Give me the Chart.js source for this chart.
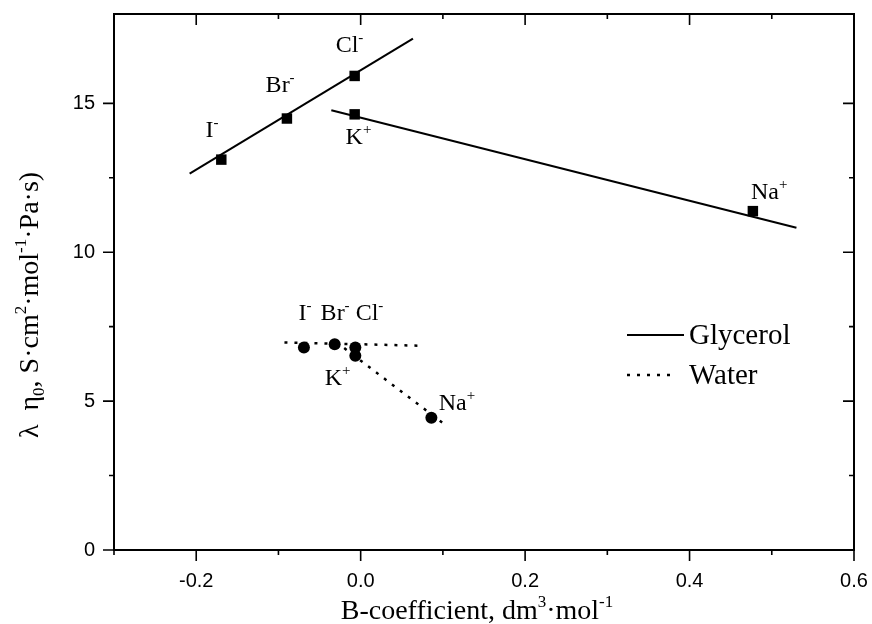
<!DOCTYPE html>
<html><head><meta charset="utf-8">
<script src="https://cdn.jsdelivr.net/npm/chart.js@4"></script>
<style>html,body{margin:0;padding:0;background:#fff}#wrap{width:872px;height:624px}</style>
</head><body><div id="wrap"><canvas id="c" width="872" height="624"></canvas></div>
<script>
// ---- data (B-coefficient, lambda*eta0) ----
const glyAnionB = [-0.1695, -0.0897, -0.0073];
const glyAnionV = [13.11, 14.49, 15.92];
const glyCationB = [-0.0073, 0.477];
const glyCationV = [14.63, 11.38];
const watAnionB = [-0.069, -0.0316, -0.0065];
const watAnionV = [6.80, 6.91, 6.80];
const watCationB = [-0.0065, 0.086];
const watCationV = [6.52, 4.44];
// fitted lines (end points)
const glyAnionFitB = [-0.208, 0.0636];
const glyAnionFitV = [12.64, 17.17];
const glyCationFitB = [-0.0357, 0.530];
const glyCationFitV = [14.77, 10.82];
const watAnionFitB = [-0.0927, 0.073];
const watAnionFitV = [6.97, 6.86];
const watCationFitB = [-0.020, 0.102];
const watCationFitV = [6.78, 4.22];
// ion labels (text, superscript, anchor in data units)
const ionText = ['I', 'Br', 'Cl', 'K', 'Na', 'I', 'Br', 'Cl', 'K', 'Na'];
const ionSup  = ['-', '-', '-', '+', '+', '-', '-', '-', '+', '+'];
const ionB    = [-0.1886, -0.1156, -0.0304, -0.0183, 0.4746, -0.0755, -0.0487, -0.0061, -0.0438, 0.0949];
const ionV    = [13.86, 15.37, 16.71, 13.62, 11.78, 7.72, 7.72, 7.72, 5.54, 4.70];
// ticks
const xTickValues = [-0.2, 0.0, 0.2, 0.4, 0.6];
const xTickLabels = ['-0.2', '0.0', '0.2', '0.4', '0.6'];
const yTickValues = [0, 5, 10, 15];
const yTickLabels = ['0', '5', '10', '15'];
const legendNames = ['Glycerol', 'Water'];

const SERIF = '"Liberation Serif", "Times New Roman", serif';
const SANS = '"Liberation Sans", Arial, sans-serif';
const pts = (xs, ys) => xs.map((x, i) => ({x: x, y: ys[i]}));

function drawRich(ctx, parts, x, y, size) {
  let cx = x;
  for (const [t, m] of parts) {
    const fs = m === 0 ? size : Math.round(size * 0.62);
    ctx.font = fs + 'px ' + SERIF;
    const dy = m === 1 ? -size * 0.42 : (m === -1 ? size * 0.2 : 0);
    ctx.fillText(t, cx, y + dy);
    cx += ctx.measureText(t).width;
  }
  return cx - x;
}
function richWidth(ctx, parts, size) {
  let w = 0;
  for (const [t, m] of parts) {
    const fs = m === 0 ? size : Math.round(size * 0.62);
    ctx.font = fs + 'px ' + SERIF;
    w += ctx.measureText(t).width;
  }
  return w;
}

const decor = {
  id: 'decor',
  afterDraw(chart) {
    const ctx = chart.ctx, a = chart.chartArea;
    const xs = chart.scales.x, ys = chart.scales.y;
    ctx.save();
    ctx.strokeStyle = '#000'; ctx.fillStyle = '#000';
    ctx.lineWidth = 2;
    ctx.strokeRect(a.left, a.top, a.right - a.left, a.bottom - a.top);
    ctx.lineWidth = 1.6;
    ctx.beginPath();
    xs.ticks.forEach(t => {
      const k = Math.round(t.value * 10);
      if (Math.abs(t.value * 10 - k) > 1e-6) return;
      const major = xTickValues.some(v => Math.abs(v - t.value) < 1e-6);
      const L = major ? 11 : 5;
      const px = xs.getPixelForValue(t.value);
      ctx.moveTo(px, a.bottom); ctx.lineTo(px, a.bottom + L);
      ctx.moveTo(px, a.top); ctx.lineTo(px, a.top + L);
    });
    ys.ticks.forEach(t => {
      if (Math.abs(t.value / 2.5 - Math.round(t.value / 2.5)) > 1e-6) return;
      const major = yTickValues.some(v => Math.abs(v - t.value) < 1e-6);
      const L = major ? 11 : 5;
      const py = ys.getPixelForValue(t.value);
      ctx.moveTo(a.left, py); ctx.lineTo(a.left - L, py);
      ctx.moveTo(a.right, py); ctx.lineTo(a.right - L, py);
    });
    ctx.stroke();

    ctx.textBaseline = 'alphabetic'; ctx.textAlign = 'left';
    const xt = [['B-coefficient, dm', 0], ['3', 1], ['\u00B7mol', 0], ['-1', 1]];
    const xw = richWidth(ctx, xt, 28);
    drawRich(ctx, xt, (a.left + a.right) / 2 - 7 - xw / 2, 619, 28);
    const yt = [['\u03BB  \u03B7', 0], ['0', -1], [', S\u00B7cm', 0], ['2', 1], ['\u00B7mol', 0], ['-1', 1], ['\u00B7Pa\u00B7s)', 0]];
    const yw = richWidth(ctx, yt, 28);
    ctx.save();
    ctx.translate(38, 305);
    ctx.rotate(-Math.PI / 2);
    drawRich(ctx, yt, -yw / 2, 0, 28);
    ctx.restore();

    for (let i = 0; i < ionText.length; i++) {
      const px = xs.getPixelForValue(ionB[i]);
      const py = ys.getPixelForValue(ionV[i]);
      drawRich(ctx, [[ionText[i], 0], [ionSup[i], 1]], px, py, 24);
    }

    const ds = chart.data.datasets;
    const items = [ds[0], ds[2]];
    const rowY = [335, 375];
    const lineEnd = [684, 674];
    items.forEach((d, i) => {
      ctx.beginPath();
      ctx.lineWidth = d.borderWidth;
      ctx.setLineDash(d.borderDash || []);
      ctx.moveTo(627, rowY[i]); ctx.lineTo(lineEnd[i], rowY[i]);
      ctx.stroke();
      ctx.setLineDash([]);
      ctx.font = '29px ' + SERIF;
      ctx.fillText(legendNames[i], 689, rowY[i] + 9);
    });
    ctx.restore();
  }
};

const solid = {showLine: true, borderColor: '#000', borderWidth: 2, pointRadius: 0, fill: false};
const dotted = {showLine: true, borderColor: '#000', borderWidth: 2.5, borderDash: [3, 7], pointRadius: 0, fill: false};
const sq = {showLine: false, pointStyle: 'rect', pointRadius: 7.4, backgroundColor: '#000', borderColor: '#000', borderWidth: 0};
const ci = {showLine: false, pointStyle: 'circle', pointRadius: 6, backgroundColor: '#000', borderColor: '#000', borderWidth: 0};

new Chart(document.getElementById('c').getContext('2d'), {
  type: 'scatter',
  data: {
    datasets: [
      Object.assign({label: 'Glycerol', data: pts(glyAnionFitB, glyAnionFitV)}, solid),
      Object.assign({label: 'Glycerol cations fit', data: pts(glyCationFitB, glyCationFitV)}, solid),
      Object.assign({label: 'Water', data: pts(watAnionFitB, watAnionFitV)}, dotted),
      Object.assign({label: 'Water cations fit', data: pts(watCationFitB, watCationFitV)}, dotted),
      Object.assign({label: 'Glycerol anions', data: pts(glyAnionB, glyAnionV)}, sq),
      Object.assign({label: 'Glycerol cations', data: pts(glyCationB, glyCationV)}, sq),
      Object.assign({label: 'Water anions', data: pts(watAnionB, watAnionV)}, ci),
      Object.assign({label: 'Water cations', data: pts(watCationB, watCationV)}, ci)
    ]
  },
  options: {
    responsive: false, animation: false, events: [],
    layout: {padding: {left: 0, top: 14, right: 18, bottom: 0}},
    plugins: {legend: {display: false}, tooltip: {enabled: false}},
    scales: {
      x: {
        type: 'linear', min: -0.3, max: 0.6,
        afterFit(s) { s.height = 74; s.paddingLeft = 0; s.paddingRight = 0; s.paddingTop = 0; s.paddingBottom = 0; },
        grid: {display: false, drawTicks: false},
        border: {display: false},
        ticks: {
          stepSize: 0.1, autoSkip: false, maxRotation: 0, padding: 19, color: '#000',
          font: {family: SANS, size: 20},
          callback(v) {
            const i = xTickValues.findIndex(t => Math.abs(t - v) < 1e-6);
            return i >= 0 ? xTickLabels[i] : '';
          }
        }
      },
      y: {
        type: 'linear', min: 0, max: 18,
        afterFit(s) { s.width = 114; s.paddingLeft = 0; s.paddingRight = 0; s.paddingTop = 0; s.paddingBottom = 0; },
        grid: {display: false, drawTicks: false},
        border: {display: false},
        ticks: {
          stepSize: 2.5, autoSkip: false, padding: 19, color: '#000',
          font: {family: SANS, size: 20},
          callback(v) {
            const i = yTickValues.findIndex(t => Math.abs(t - v) < 1e-6);
            return i >= 0 ? yTickLabels[i] : '';
          }
        }
      }
    }
  },
  plugins: [decor]
});
</script>
</body></html>
